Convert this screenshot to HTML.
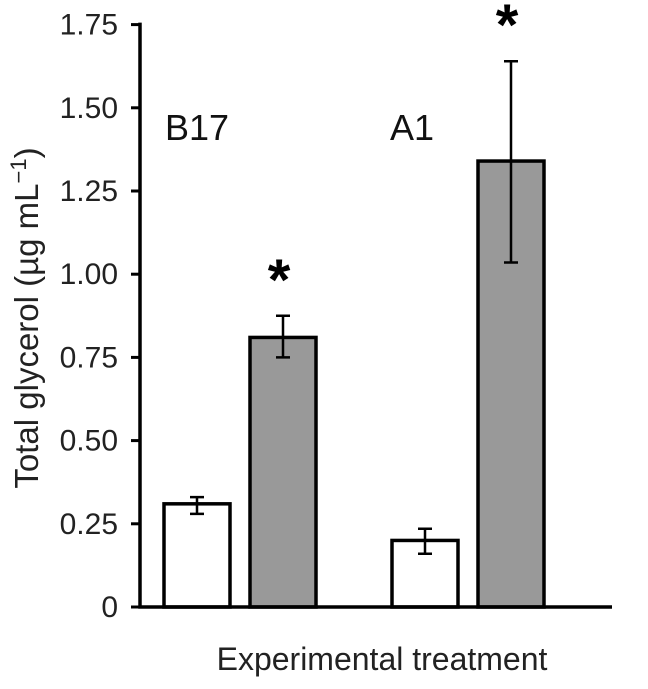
<!DOCTYPE html>
<html><head><meta charset="utf-8"><style>
body{margin:0;background:#fff;font-family:"Liberation Sans",sans-serif}
</style></head><body>
<svg width="648" height="684" viewBox="0 0 648 684" xmlns="http://www.w3.org/2000/svg" style="font-family:'Liberation Sans',sans-serif">
<g id="plot"></g>
<text x="382" y="670" font-size="32" text-anchor="middle" fill="#222">Experimental treatment</text>
<text transform="translate(38,318) rotate(-90)" font-size="33" text-anchor="middle" fill="#222">Total glycerol (µg mL<tspan font-size="22" dy="-12">−1</tspan><tspan dy="12">)</tspan></text>
<text x="165" y="140" font-size="36" fill="#111">B17</text>
<text x="390" y="140" font-size="36" fill="#111">A1</text>
</svg>
<script>
const categories = ["B17 control","B17 treated","A1 control","A1 treated"];
const values = [0.31, 0.81, 0.20, 1.34];
const errLow = [0.28, 0.75, 0.16, 1.035];
const errHigh = [0.33, 0.875, 0.235, 1.64];
const fills = ["#fff","#999","#fff","#999"];
const sig = [false, true, false, true];
const yTicks = [0, 0.25, 0.5, 0.75, 1.0, 1.25, 1.5, 1.75];
const yTickLabels = ["0","0.25","0.50","0.75","1.00","1.25","1.50","1.75"];
const NS="http://www.w3.org/2000/svg";
const g=document.getElementById('plot');
const y0=607, yScale=332.8;
function y(v){return y0-v*yScale;}
function xBar(i){return 164 + (i%2)*86 + Math.floor(i/2)*228;}
const bw=66;
function mk(t,a){const e=document.createElementNS(NS,t);for(const k in a)e.setAttribute(k,a[k]);g.appendChild(e);return e;}
categories.forEach((c,i)=>{
  const x=xBar(i);
  const r=mk('rect',{x:x,y:y(values[i]),width:bw,height:y0-y(values[i]),fill:fills[i],stroke:'#000','stroke-width':3.5});
  
  
  const cx=x+bw/2;
  const eg=mk('path',{d:`M${cx},${y(errLow[i])}V${y(errHigh[i])}M${cx-7},${y(errLow[i])}H${cx+7}M${cx-7},${y(errHigh[i])}H${cx+7}`,stroke:'#000','stroke-width':2.5,fill:'none'});
  
  
  if(sig[i]){
    const s=mk('text',{x:cx-4,y:y(errHigh[i])-16,'font-size':58,'font-weight':'bold','text-anchor':'middle'});
    s.textContent='*';
    
    
  }
});
const ax=mk('path',{d:`M140,${y(1.75)-2}V${y0}H612`,stroke:'#000','stroke-width':3.5,fill:'none'});


yTicks.forEach((t,i)=>{
  const tk=mk('line',{x1:131,x2:140,y1:y(t),y2:y(t),stroke:'#000','stroke-width':3});
  
  
  const l=mk('text',{x:118,y:y(t)+10,'font-size':30,'text-anchor':'end',fill:'#222'});
  l.textContent=yTickLabels[i];
  
  
});
</script>
</body></html>
